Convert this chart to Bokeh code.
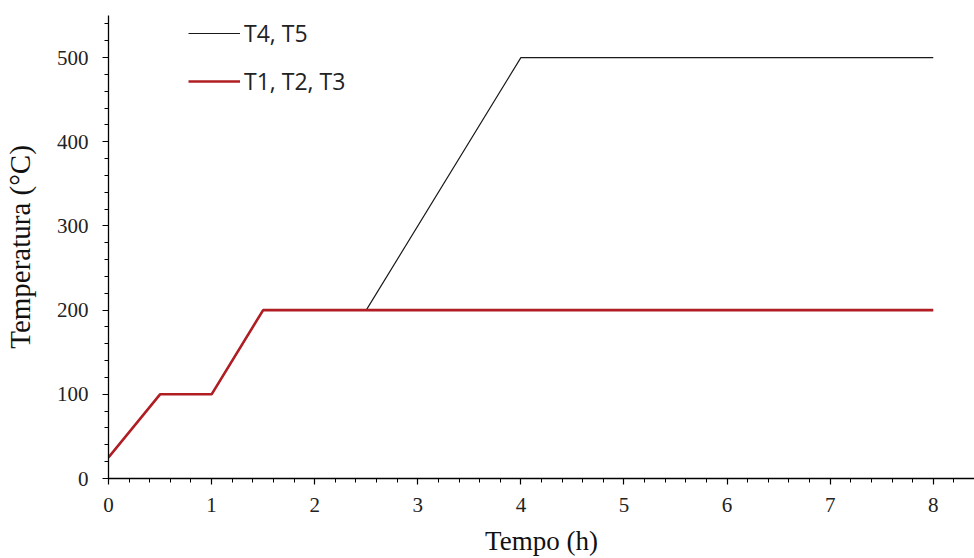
from bokeh.plotting import figure
from bokeh.models import Range1d, FixedTicker, Legend, LegendItem
from bokeh.embed import file_html
from bokeh.resources import INLINE
import numpy as np

# Data
time_t123 = [0, 0.5, 1, 1.5, 8]
temp_t123 = [25, 100, 100, 200, 200]
time_t45 = [0, 0.5, 1, 1.5, 2.5, 4, 8]
temp_t45 = [25, 100, 100, 200, 200, 500, 500]
x_ticks = [0, 1, 2, 3, 4, 5, 6, 7, 8]
y_ticks = [0, 100, 200, 300, 400, 500]

p = figure(width=974, height=558, output_backend="svg", toolbar_location=None,
           x_range=Range1d(0, 8.4), y_range=Range1d(0, 550),
           min_border_left=108, min_border_right=0, min_border_top=15, min_border_bottom=80)
p.outline_line_color = None
p.xgrid.visible = False
p.ygrid.visible = False
p.background_fill_color = "white"
p.border_fill_color = "white"

r45 = p.line(time_t45, temp_t45, line_color="#1a1a1a", line_width=1.2)
r123 = p.line(time_t123, temp_t123, line_color="#b01e23", line_width=2.6)

legend = Legend(items=[LegendItem(label="T4, T5", renderers=[r45]),
                       LegendItem(label="T1, T2, T3", renderers=[r123])],
                location=(80, 381), orientation="vertical")
legend.border_line_color = None
legend.background_fill_alpha = 0
legend.padding = 0
legend.margin = 0
legend.spacing = 16
legend.glyph_width = 52
legend.glyph_height = 32
legend.label_height = 32
legend.label_standoff = 4
legend.label_text_font = "Open Sans"
legend.label_text_font_size = "23px"
legend.label_text_color = "#222222"
p.add_layout(legend, "center")

for ax in (p.xaxis[0], p.yaxis[0]):
    ax.axis_line_color = "black"
    ax.axis_line_width = 1.3
    ax.major_tick_line_color = "black"
    ax.minor_tick_line_color = "black"
    ax.major_tick_line_width = 1.2
    ax.minor_tick_line_width = 1.0
    ax.major_tick_in = 0
    ax.major_tick_out = 6
    ax.minor_tick_in = 0
    ax.minor_tick_out = 4
    ax.major_label_text_font = "Liberation Serif"
    ax.major_label_text_font_size = "21px"
    ax.major_label_text_color = "#222222"
    ax.axis_label_text_font = "Liberation Serif"
    ax.axis_label_text_font_style = "normal"
    ax.axis_label_text_color = "#111111"

p.xaxis[0].axis_label_text_font_size = "27px"
p.yaxis[0].axis_label_text_font_size = "29px"
p.xaxis[0].ticker = FixedTicker(ticks=x_ticks, minor_ticks=list(np.round(np.arange(0, 8.41, 0.2), 2)))
p.yaxis[0].ticker = FixedTicker(ticks=y_ticks, minor_ticks=list(range(0, 541, 20)))
p.xaxis[0].axis_label = "Tempo (h)"
p.yaxis[0].axis_label = "Temperatura (°C)"
p.xaxis[0].major_label_standoff = 13
p.xaxis[0].axis_label_standoff = 11
p.yaxis[0].major_label_standoff = 14
p.yaxis[0].axis_label_standoff = 18

open("out.html", "w").write(file_html(p, INLINE))
